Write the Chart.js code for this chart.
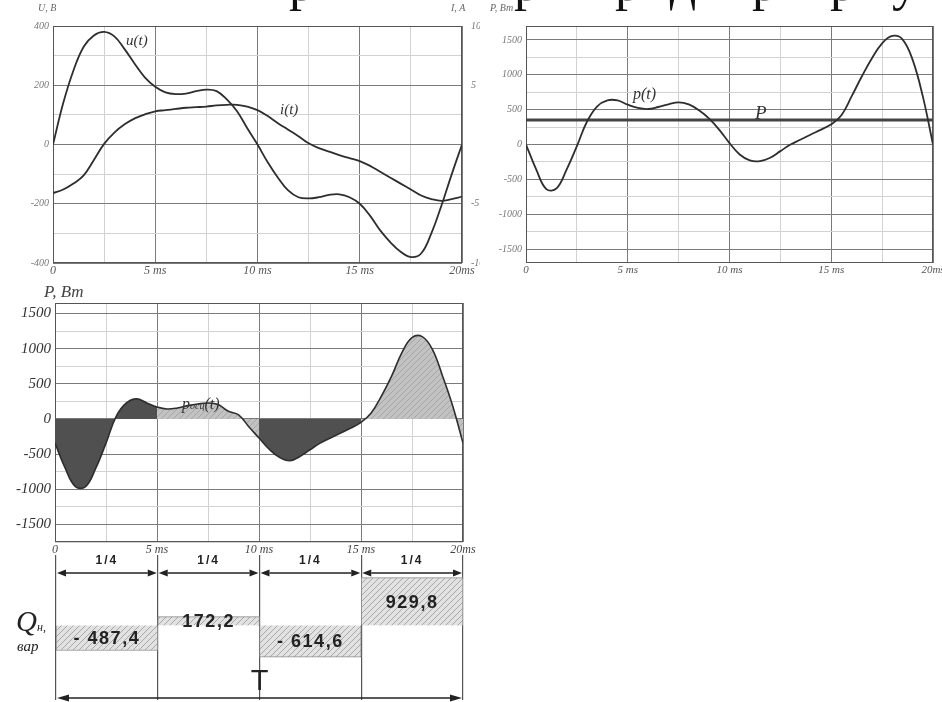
<!DOCTYPE html>
<html lang="ru">
<head>
<meta charset="UTF-8">
<title>Мгновенная мощность</title>
<style>
  html, body { margin: 0; padding: 0; background: #fff; }
  body { width: 942px; height: 702px; position: relative; overflow: hidden;
         font-family: "Liberation Serif", "Times New Roman", serif; }
  canvas { position: absolute; }
  .lbl { position: absolute; font-style: italic; color: #333; white-space: nowrap; line-height: 1; }
  .small { font-size: 10px; color: #666; }
  .cut { position: absolute; top: -43px; font-size: 52px; line-height: 1; color: #111; transform: translateX(-50%); }
</style>
<script src="https://cdn.jsdelivr.net/npm/chart.js@4.4.0/dist/chart.umd.min.js"></script>
</head>
<body>

<!-- bottom of the text line above the figure, cut off by the page edge -->
<span class="cut" style="left:302px">р</span>
<span class="cut" style="left:527px">р</span>
<span class="cut" style="left:628px">р</span>
<span class="cut" style="left:683px">д</span>
<span class="cut" style="left:765px">р</span>
<span class="cut" style="left:843px">р</span>
<span class="cut" style="left:905px">у</span>

<canvas id="uiChart" width="480" height="280" style="left:0;top:0"></canvas>
<canvas id="pChart" width="462" height="280" style="left:480px;top:0"></canvas>
<canvas id="oscChart" width="480" height="280" style="left:0;top:280px"></canvas>
<canvas id="qChart" width="480" height="147" style="left:0;top:555px"></canvas>

<div class="lbl small" style="left:38px;top:3px">U, В</div>
<div class="lbl small" style="left:451px;top:3px">I, А</div>
<div class="lbl small" style="left:490px;top:3px">P, Вт</div>
<div class="lbl" style="left:126px;top:33px;font-size:15px">u(t)</div>
<div class="lbl" style="left:280px;top:102px;font-size:15px">i(t)</div>
<div class="lbl" style="left:633px;top:86px;font-size:16px">p(t)</div>
<div class="lbl" style="left:755px;top:103px;font-size:19px">P</div>
<div class="lbl" style="left:44px;top:283px;font-size:17px;color:#444">P, Вт</div>
<div class="lbl" style="left:182px;top:396px;font-size:16px">p<span style="font-size:10px">осц</span>(t)</div>
<div class="lbl" style="left:16px;top:607px;font-size:29px;color:#222">Q<span style="font-size:12px">н,</span></div>
<div class="lbl" style="left:17px;top:639px;font-size:15px;color:#222">вар</div>
<div class="lbl" style="left:552px;top:697px;font-size:24px;font-style:normal;color:#222">Рис. 3</div>

<script>
// time axis, ms
var time = [0, 0.5, 1, 1.5, 2, 2.5, 3, 3.5, 4, 4.5, 5, 5.5, 6, 6.5, 7, 7.5, 8, 8.5, 9, 9.5,
            10, 10.5, 11, 11.5, 12, 12.5, 13, 13.5, 14, 14.5, 15, 15.5, 16, 16.5, 17, 17.5, 18, 18.5, 19, 19.5, 20];

// u(t), V
var uValues = [0, 140, 250, 330, 368, 380, 365, 322, 272, 226, 195, 176, 170, 172, 180, 185, 180, 152, 112, 55,
               0, -60, -112, -155, -178, -182, -178, -170, -168, -178, -200, -240, -290, -330, -362, -380, -368, -300, -205, -100, 0];
// i(t), A
var iValues = [-4.1, -3.8, -3.3, -2.6, -1.3, 0.05, 1.0, 1.7, 2.2, 2.55, 2.8, 2.9, 3.0, 3.1, 3.15, 3.2, 3.3, 3.35, 3.35, 3.2,
               2.9, 2.4, 1.8, 1.25, 0.7, 0.1, -0.3, -0.6, -0.9, -1.15, -1.4, -1.8, -2.3, -2.8, -3.3, -3.8, -4.3, -4.6, -4.75, -4.6, -4.4];
// p(t), W
var pValues = [0, -357, -640, -630, -357, -24, 330, 548, 633, 633, 571, 524, 509, 538, 576, 605, 575, 490, 370, 210,
               20, -143, -228, -238, -190, -95, 0, 71, 143, 214, 290, 420, 690, 976, 1238, 1452, 1557, 1509, 1214, 690, 0];
// P, W
var pAverage = 350;
// p_osc(t), W
var pOscValues = [-343, -700, -962, -962, -700, -343, 38, 228, 286, 228, 171, 143, 157, 190, 214, 228, 205, 110, 60, -110,
                  -270, -430, -545, -595, -533, -438, -343, -271, -200, -129, -48, 86, 324, 609, 942, 1157, 1171, 990, 609, 181, -343];

var xTickValues = [0, 5, 10, 15, 20];
var xTickLabels = ['0', '5 ms', '10 ms', '15 ms', '20ms'];
var uTickValues = [-400, -200, 0, 200, 400];
var iTickValues = [-10, -5, 5, 10];
var pTickValues = [-1500, -1000, -500, 0, 500, 1000, 1500];

var quarterBounds = [0, 5, 10, 15, 20];
var quarterNames = ['1/4', '1/4', '1/4', '1/4'];
var qValues = [-487.4, 172.2, -614.6, 929.8];

var MAJOR = '#7a7a7a', MINOR = '#d2d2d2', INK = '#2e2e2e';

Chart.defaults.font.family = '"Liberation Serif", "Times New Roman", serif';
Chart.defaults.font.style = 'italic';
Chart.defaults.color = '#666';
Chart.defaults.animation = false;
Chart.defaults.responsive = false;
Chart.defaults.plugins.legend.display = false;
Chart.defaults.plugins.tooltip.enabled = false;
Chart.defaults.elements.point.radius = 0;

function pts(vals, from, to) {
    var out = [];
    for (var k = 0; k < time.length; k++) {
        if (from === undefined || (time[k] >= from && time[k] <= to)) out.push({x: time[k], y: vals[k]});
    }
    return out;
}

function hatch(bg, line) {
    var c = document.createElement('canvas');
    c.width = 6; c.height = 6;
    var g = c.getContext('2d');
    g.fillStyle = bg; g.fillRect(0, 0, 6, 6);
    g.strokeStyle = line; g.lineWidth = 1;
    g.beginPath(); g.moveTo(0, 6); g.lineTo(6, 0); g.moveTo(-1, 1); g.lineTo(1, -1); g.moveTo(5, 7); g.lineTo(7, 5); g.stroke();
    return g.createPattern(c, 'repeat');
}

var framePlugin = {
    id: 'frame',
    beforeDatasetsDraw: function(chart) {
        var a = chart.chartArea, c = chart.ctx;
        c.save();
        c.strokeStyle = '#555'; c.lineWidth = 1;
        c.strokeRect(a.left + 0.5, a.top + 0.5, a.right - a.left - 1, a.bottom - a.top - 1);
        c.restore();
    }
};

// grid ticks at every step inside [min, max]
function stepTicks(min, max, step) {
    return function(s) {
        var t = [];
        for (var v = Math.ceil(min / step) * step; v <= max + 1e-9; v += step) t.push({value: v});
        s.ticks = t;
    };
}

function timeAxis(h, size, color) {
    return {
        type: 'linear', min: 0, max: 20,
        afterBuildTicks: stepTicks(0, 20, 2.5),
        afterFit: function(s) { s.height = h; s.paddingLeft = 0; s.paddingRight = 0; },
        ticks: {
            autoSkip: false, maxRotation: 0, padding: 1,
            font: {size: size}, color: color,
            callback: function(v) { var k = xTickValues.indexOf(v); return k < 0 ? '' : xTickLabels[k]; }
        },
        grid: { drawTicks: false, color: function(c) { return c.tick && xTickValues.indexOf(c.tick.value) >= 0 ? MAJOR : MINOR; } },
        border: { display: false }
    };
}

function valueAxis(min, max, step, majors, w, size, color) {
    return {
        min: min, max: max,
        afterBuildTicks: stepTicks(min, max, step),
        afterFit: function(s) { s.width = w; },
        ticks: {
            autoSkip: false, padding: 4,
            font: {size: size}, color: color,
            callback: function(v) { return majors.indexOf(v) >= 0 ? String(v) : ''; }
        },
        grid: { drawTicks: false, color: function(c) { return c.tick && majors.indexOf(c.tick.value) >= 0 ? MAJOR : MINOR; } },
        border: { display: false }
    };
}

function lineSet(data, axis, width) {
    return { data: data, yAxisID: axis || 'y', borderColor: INK, borderWidth: width || 1.8, tension: 0.4, fill: false };
}

// u(t), i(t)
var yI = valueAxis(-10, 10, 5, iTickValues, 18, 10, '#777');
yI.position = 'right';
yI.grid = { display: false };
yI.ticks.padding = 1;
new Chart(document.getElementById('uiChart'), {
    type: 'line',
    data: { datasets: [lineSet(pts(uValues)), lineSet(pts(iValues), 'y2')] },
    options: {
        layout: { padding: { top: 26 } },
        scales: { x: timeAxis(17, 12, '#555'), y: valueAxis(-400, 400, 100, uTickValues, 53, 10, '#777'), y2: yI }
    },
    plugins: [framePlugin]
});

// p(t), P
new Chart(document.getElementById('pChart'), {
    type: 'line',
    data: { datasets: [
        lineSet(pts(pValues)),
        { data: [{x: 0, y: pAverage}, {x: 20, y: pAverage}], borderColor: '#444', borderWidth: 3, fill: false }
    ] },
    options: {
        layout: { padding: { top: 26, right: 9 } },
        scales: { x: timeAxis(17, 11, '#555'), y: valueAxis(-1700, 1700, 250, pTickValues, 46, 10, '#777') }
    },
    plugins: [framePlugin]
});

// p_osc(t) with quarter fills
var darkFill = '#505050';
var lightFill = hatch('#c2c2c2', '#a6a6a6');
var oscSets = [lineSet(pts(pOscValues), 'y', 1.6)];
for (var q = 0; q < 4; q++) {
    oscSets.push({
        data: pts(pOscValues, quarterBounds[q], quarterBounds[q + 1]),
        borderWidth: 0, borderColor: 'rgba(0,0,0,0)', tension: 0.4, fill: 'origin',
        backgroundColor: q % 2 === 0 ? darkFill : lightFill
    });
}
new Chart(document.getElementById('oscChart'), {
    type: 'line',
    data: { datasets: oscSets },
    options: {
        layout: { padding: { top: 23, right: 17 } },
        scales: { x: timeAxis(18, 12, '#444'), y: valueAxis(-1750, 1650, 250, pTickValues, 55, 15, '#333') }
    },
    plugins: [framePlugin]
});

// Q per quarter
function fmtQ(v) {
    return (v < 0 ? '- ' : '') + Math.abs(v).toFixed(1).replace('.', ',');
}
function arrow(c, x1, x2, y, head) {
    c.beginPath(); c.moveTo(x1 + head, y); c.lineTo(x2 - head, y); c.stroke();
    c.beginPath(); c.moveTo(x1, y); c.lineTo(x1 + head, y - 3.5); c.lineTo(x1 + head, y + 3.5); c.closePath(); c.fill();
    c.beginPath(); c.moveTo(x2, y); c.lineTo(x2 - head, y - 3.5); c.lineTo(x2 - head, y + 3.5); c.closePath(); c.fill();
}
var qPlugin = {
    id: 'qmarks',
    afterDatasetsDraw: function(chart) {
        var c = chart.ctx, meta = chart.getDatasetMeta(0), a = chart.chartArea;
        c.save();
        c.fillStyle = '#222'; c.strokeStyle = '#222'; c.lineWidth = 1.5;
        c.textAlign = 'center'; c.textBaseline = 'middle';
        meta.data.forEach(function(el, k) {
            var half = el.width / 2;
            arrow(c, el.x - half + 1, el.x + half - 1, 18, 9);
            c.font = 'bold 12px "Liberation Sans", Arial, sans-serif';
            if ('letterSpacing' in c) c.letterSpacing = '2px';
            c.fillText(quarterNames[k], el.x, 6);
            c.font = 'bold 18px "Liberation Sans", Arial, sans-serif';
            if ('letterSpacing' in c) c.letterSpacing = '1.5px';
            c.fillText(fmtQ(qValues[k]), el.x, (el.y + el.base) / 2 + 1);
        });
        if ('letterSpacing' in c) c.letterSpacing = '0px';
        arrow(c, a.left + 1, a.right - 1, 143, 12);
        c.font = '29px "Liberation Sans", Arial, sans-serif';
        c.fillText('T', (a.left + a.right) / 2, 127);
        c.restore();
    }
};
new Chart(document.getElementById('qChart'), {
    type: 'bar',
    data: { labels: quarterNames, datasets: [{
        data: qValues, backgroundColor: hatch('#e2e2e2', '#a8a8a8'),
        borderColor: '#8a8a8a', borderWidth: 1, barPercentage: 1, categoryPercentage: 1
    }] },
    options: {
        layout: { padding: { left: 56, right: 17 } },
        scales: {
            x: { afterFit: function(s) { s.height = 2; }, ticks: { display: false },
                 grid: { offset: true, drawTicks: false, color: '#555', lineWidth: 1.2 }, border: { display: false } },
            y: { display: false, min: -1450, max: 1370 }
        }
    },
    plugins: [qPlugin]
});
</script>
</body>
</html>
